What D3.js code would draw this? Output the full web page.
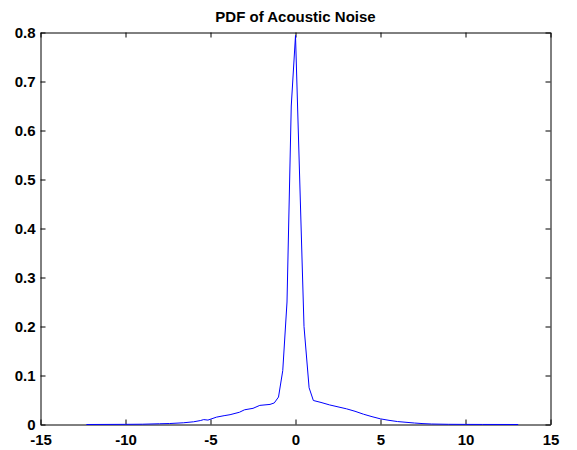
<!DOCTYPE html>
<html>
<head>
<meta charset="utf-8">
<script src="https://cdn.jsdelivr.net/npm/d3@7"></script>
<style>
  body { margin: 0; background: #fff; }
  svg { display: block; font-family: "Liberation Sans", Arial, sans-serif; }
  .axis text { font-size: 15px; font-weight: bold; fill: #000; }
  .axis path, .axis line { stroke: #000; }
</style>
</head>
<body>
<div id="chart"></div>
<script>
const title = 'PDF of Acoustic Noise';
const xTicks = [-15, -10, -5, 0, 5, 10, 15];
const yTicks = [0, 0.1, 0.2, 0.3, 0.4, 0.5, 0.6, 0.7, 0.8];

// noise value (x) and estimated density (y)
const noiseX = [-12.3, -10, -9, -8, -7.4, -6.6, -6.0, -5.6, -5.4, -5.15, -4.65, -4.2, -3.85, -3.3, -3.0, -2.5, -2.1, -1.5, -1.25, -1.0, -0.75, -0.5, -0.25, 0,
    0.5, 0.8, 1.05, 1.5, 2.0, 2.5, 3.0, 3.5, 4.0, 4.5, 5.0, 5.5, 6.0, 6.5, 7.0, 7.5, 8.0, 9, 10, 11, 13.1];
const density = [0, 0.0003, 0.0006, 0.0015, 0.002, 0.0035, 0.0055, 0.008, 0.010, 0.009, 0.015, 0.018, 0.020, 0.025, 0.030, 0.033, 0.039, 0.041, 0.044, 0.056, 0.11, 0.25, 0.65, 0.794,
    0.2, 0.075, 0.049, 0.045, 0.040, 0.036, 0.032, 0.027, 0.021, 0.016, 0.0115, 0.0085, 0.006, 0.0045, 0.003, 0.0018, 0.001, 0.0004, 0.0002, 0.0001, 0];

const data = noiseX.map((x, i) => ({ x: x, y: density[i] }));

const W = 577, H = 450;
const plot = { left: 40.5, right: 550.5, top: 32.5, bottom: 424.5 };

const svg = d3.select('#chart')
    .append('svg')
    .attr('width', W)
    .attr('height', H);

const xScale = d3.scaleLinear().domain([-15, 15]).range([plot.left, plot.right]);
const yScale = d3.scaleLinear().domain([0, 0.8]).range([plot.bottom, plot.top]);

const yFmt = d => d === 0 ? '0' : d3.format('.1f')(d);

// bottom axis with labels (plain hyphen minus like the original)
svg.append('g')
    .attr('class', 'axis')
    .attr('transform', `translate(0,${plot.bottom})`)
    .call(d3.axisBottom(xScale).tickValues(xTicks).tickSizeInner(-5).tickSizeOuter(0).tickPadding(10).tickFormat(d => String(d)));

// left axis with labels
svg.append('g')
    .attr('class', 'axis')
    .attr('transform', `translate(${plot.left},0)`)
    .call(d3.axisLeft(yScale).tickValues(yTicks).tickSizeInner(-5).tickSizeOuter(0).tickPadding(5).tickFormat(yFmt));

// top and right: ticks only
svg.append('g')
    .attr('class', 'axis')
    .attr('transform', `translate(0,${plot.top})`)
    .call(d3.axisTop(xScale).tickValues(xTicks).tickSizeInner(-5).tickSizeOuter(0).tickFormat(''));

svg.append('g')
    .attr('class', 'axis')
    .attr('transform', `translate(${plot.right},0)`)
    .call(d3.axisRight(yScale).tickValues(yTicks).tickSizeInner(-5).tickSizeOuter(0).tickFormat(''));

// the density curve
const line = d3.line()
    .x(d => xScale(d.x))
    .y(d => yScale(d.y));

svg.append('path')
    .datum(data)
    .attr('d', line)
    .attr('fill', 'none')
    .attr('stroke', '#0000ff')
    .attr('stroke-width', 1);

svg.append('text')
    .attr('x', (plot.left + plot.right) / 2)
    .attr('y', 22)
    .attr('text-anchor', 'middle')
    .style('font-size', '15px')
    .style('font-weight', 'bold')
    .text(title);
</script>
</body>
</html>
